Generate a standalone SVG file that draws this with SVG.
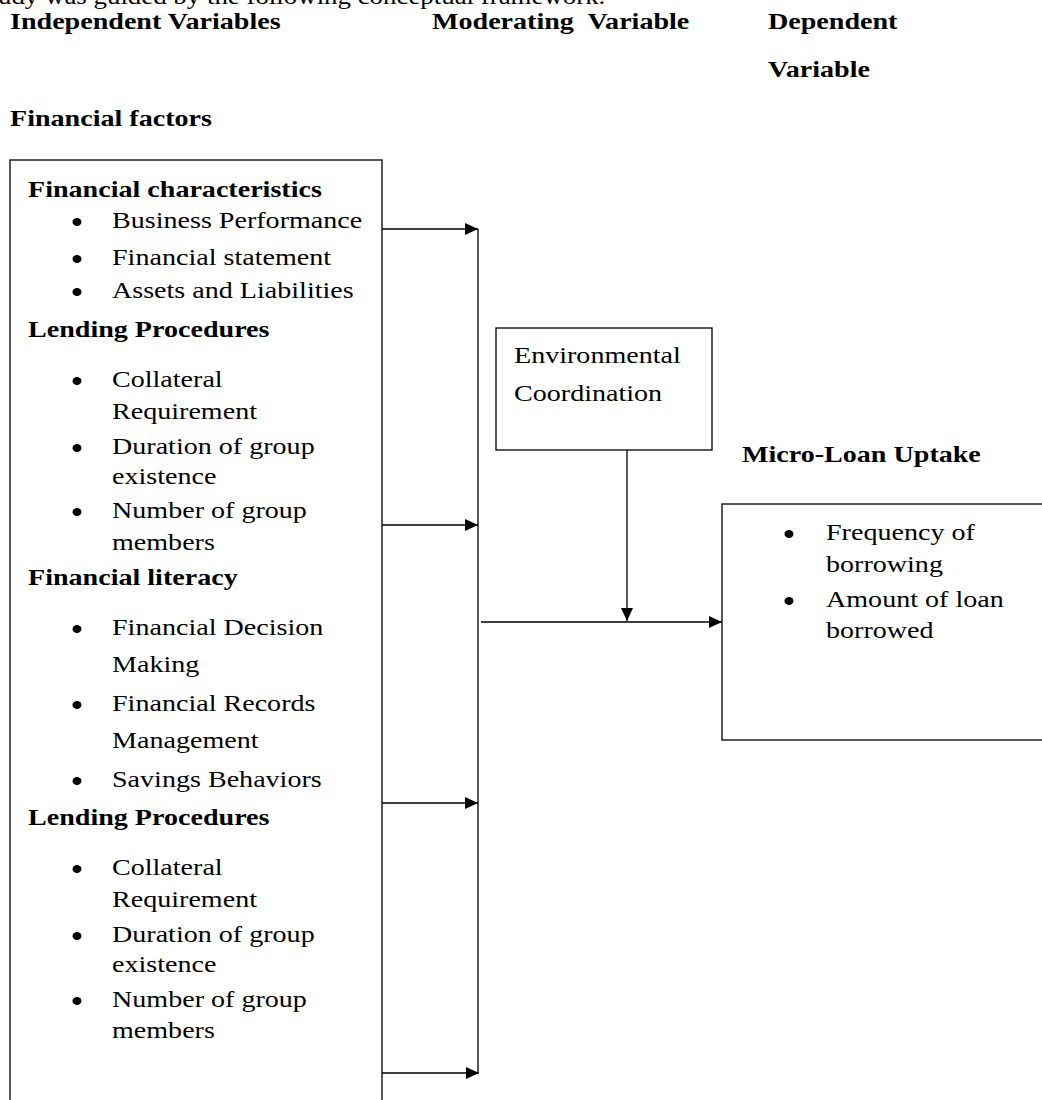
<svg xmlns="http://www.w3.org/2000/svg" width="1042" height="1100" viewBox="0 0 1042 1100">
<style>
.t{font-family:"Liberation Serif","Times New Roman",serif;font-size:24px;fill:#000}
.b{font-family:"Liberation Serif","Times New Roman",serif;font-size:24px;font-weight:bold;fill:#000}
.box{fill:#fff;stroke:#000;stroke-width:1.3}
.ln{fill:none;stroke:#000;stroke-width:1.3}
.dot{fill:#000}
</style>
<defs>
<marker id="ah" markerUnits="userSpaceOnUse" markerWidth="13" markerHeight="13" refX="13" refY="6.5" orient="auto">
<path d="M0,0.5 L13,6.5 L0,12.5 z" fill="#000"/>
</marker>
</defs>
<rect width="1042" height="1100" fill="#fff"/>

<g id="headers">
<text class="t" transform="translate(-2,4) scale(1.12,1)">udy was guided by the following conceptual framework.</text>
<text class="b" transform="translate(10,29) scale(1.17,1)">Independent Variables</text>
<text class="b" transform="translate(432,29) scale(1.17,1)" xml:space="preserve">Moderating  Variable</text>
<text class="b" transform="translate(768,29) scale(1.17,1)">Dependent</text>
<text class="b" transform="translate(768,77) scale(1.17,1)">Variable</text>
<text class="b" transform="translate(10,126) scale(1.17,1)">Financial factors</text>
<text class="b" transform="translate(742,462) scale(1.17,1)">Micro-Loan Uptake</text>
</g>

<g id="financial-factors">
<rect class="box" x="10" y="160" width="372" height="960"/>
<text class="b" transform="translate(28,197) scale(1.17,1)">Financial characteristics</text>
<ellipse class="dot" cx="77" cy="222" rx="4.5" ry="4"/>
<text class="t" transform="translate(112,228) scale(1.17,1)">Business Performance</text>
<ellipse class="dot" cx="77" cy="259" rx="4.5" ry="4"/>
<text class="t" transform="translate(112,265) scale(1.17,1)">Financial statement</text>
<ellipse class="dot" cx="77" cy="292" rx="4.5" ry="4"/>
<text class="t" transform="translate(112,298) scale(1.17,1)">Assets and Liabilities</text>

<text class="b" transform="translate(28,337) scale(1.17,1)">Lending Procedures</text>
<ellipse class="dot" cx="77" cy="381" rx="4.5" ry="4"/>
<text class="t" transform="translate(112,387) scale(1.17,1)">Collateral</text>
<text class="t" transform="translate(112,419) scale(1.17,1)">Requirement</text>
<ellipse class="dot" cx="77" cy="448" rx="4.5" ry="4"/>
<text class="t" transform="translate(112,454) scale(1.17,1)">Duration of group</text>
<text class="t" transform="translate(112,484) scale(1.17,1)">existence</text>
<ellipse class="dot" cx="77" cy="512" rx="4.5" ry="4"/>
<text class="t" transform="translate(112,518) scale(1.17,1)">Number of group</text>
<text class="t" transform="translate(112,550) scale(1.17,1)">members</text>

<text class="b" transform="translate(28,585) scale(1.17,1)">Financial literacy</text>
<ellipse class="dot" cx="77" cy="629" rx="4.5" ry="4"/>
<text class="t" transform="translate(112,635) scale(1.17,1)">Financial Decision</text>
<text class="t" transform="translate(112,672) scale(1.17,1)">Making</text>
<ellipse class="dot" cx="77" cy="705" rx="4.5" ry="4"/>
<text class="t" transform="translate(112,711) scale(1.17,1)">Financial Records</text>
<text class="t" transform="translate(112,748) scale(1.17,1)">Management</text>
<ellipse class="dot" cx="77" cy="781" rx="4.5" ry="4"/>
<text class="t" transform="translate(112,787) scale(1.17,1)">Savings Behaviors</text>

<text class="b" transform="translate(28,825) scale(1.17,1)">Lending Procedures</text>
<ellipse class="dot" cx="77" cy="869" rx="4.5" ry="4"/>
<text class="t" transform="translate(112,875) scale(1.17,1)">Collateral</text>
<text class="t" transform="translate(112,907) scale(1.17,1)">Requirement</text>
<ellipse class="dot" cx="77" cy="936" rx="4.5" ry="4"/>
<text class="t" transform="translate(112,942) scale(1.17,1)">Duration of group</text>
<text class="t" transform="translate(112,972) scale(1.17,1)">existence</text>
<ellipse class="dot" cx="77" cy="1001" rx="4.5" ry="4"/>
<text class="t" transform="translate(112,1007) scale(1.17,1)">Number of group</text>
<text class="t" transform="translate(112,1038) scale(1.17,1)">members</text>
</g>

<g id="environmental-coordination">
<rect class="box" x="496" y="328" width="216" height="122"/>
<text class="t" transform="translate(514,363) scale(1.17,1)">Environmental</text>
<text class="t" transform="translate(514,401) scale(1.17,1)">Coordination</text>
</g>

<g id="micro-loan-uptake">
<rect class="box" x="722" y="504" width="340" height="236"/>
<ellipse class="dot" cx="789" cy="534" rx="4.5" ry="4"/>
<text class="t" transform="translate(826,540) scale(1.17,1)">Frequency of</text>
<text class="t" transform="translate(826,572) scale(1.17,1)">borrowing</text>
<ellipse class="dot" cx="789" cy="601" rx="4.5" ry="4"/>
<text class="t" transform="translate(826,607) scale(1.17,1)">Amount of loan</text>
<text class="t" transform="translate(826,638) scale(1.17,1)">borrowed</text>
</g>

<g id="connectors">
<line class="ln" x1="382" y1="229" x2="478" y2="229" marker-end="url(#ah)"/>
<line class="ln" x1="382" y1="525" x2="478" y2="525" marker-end="url(#ah)"/>
<line class="ln" x1="382" y1="803" x2="478" y2="803" marker-end="url(#ah)"/>
<line class="ln" x1="382" y1="1073" x2="479" y2="1073" marker-end="url(#ah)"/>
<line class="ln" x1="478" y1="229" x2="478" y2="1073"/>
<line class="ln" x1="627" y1="450" x2="627" y2="621" marker-end="url(#ah)"/>
<line class="ln" x1="481" y1="622" x2="722" y2="622" marker-end="url(#ah)"/>
</g>
</svg>
